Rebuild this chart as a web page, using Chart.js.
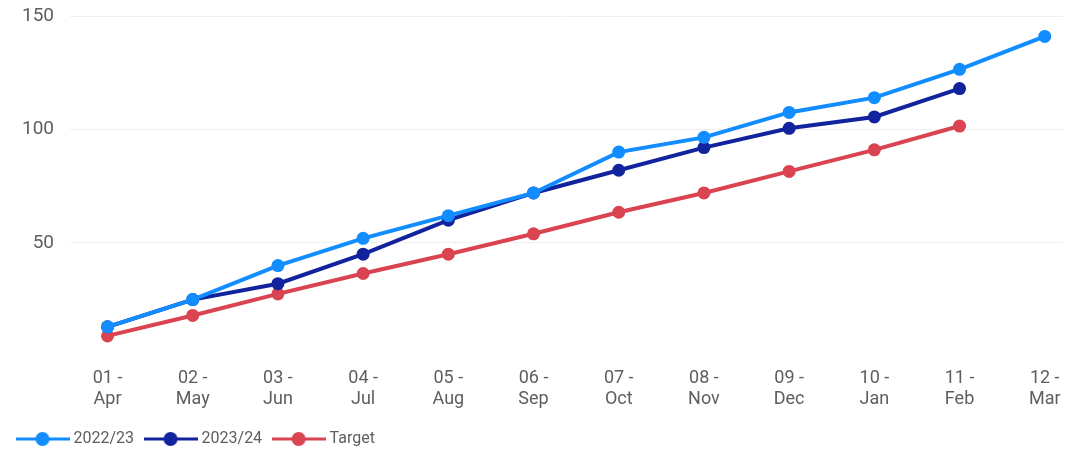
<!DOCTYPE html>
<html>
<head>
<meta charset="utf-8">
<script src="https://cdn.jsdelivr.net/npm/chart.js@4.4.1/dist/chart.umd.min.js"></script>
<style>
  html, body { margin: 0; padding: 0; background: #fff; }
  #wrap { width: 1070px; height: 449px; }
</style>
</head>
<body>
<div id="wrap"><canvas id="chart"></canvas></div>
<script>
// month labels (two lines each)
const months = [
  ["01 -", "Apr"], ["02 -", "May"], ["03 -", "Jun"], ["04 -", "Jul"],
  ["05 -", "Aug"], ["06 -", "Sep"], ["07 -", "Oct"], ["08 -", "Nov"],
  ["09 -", "Dec"], ["10 -", "Jan"], ["11 -", "Feb"], ["12 -", "Mar"]
];
const fy2223 = [13, 25, 40, 52, 62, 72, 90, 96.5, 107.5, 114, 126.5, 141];
const fy2324 = [13, 25, 32, 45, 60, 72, 82, 92, 100.5, 105.5, 118];
const target = [9, 18, 27.5, 36.5, 45, 54, 63.5, 72, 81.5, 91, 101.5];
const yTicks = [50, 100, 150];

const colors = { a: "#118DFF", b: "#12239E", t: "#DA4450" };
const textColor = "#605E5C";

function toPoints(arr) {
  return arr.map((v, i) => ({ x: i, y: v }));
}

// legend marker: short line with a dot in the middle
function legendMarker(color) {
  const c = document.createElement("canvas");
  c.width = 54; c.height = 16;
  const g = c.getContext("2d");
  g.strokeStyle = color;
  g.lineWidth = 3;
  g.beginPath(); g.moveTo(0, 8); g.lineTo(54, 8); g.stroke();
  g.fillStyle = color;
  g.beginPath(); g.arc(27, 8, 7, 0, Math.PI * 2); g.fill();
  return c;
}

function series(label, data, color) {
  return {
    label: label,
    data: toPoints(data),
    borderColor: color,
    backgroundColor: color,
    borderWidth: 4,
    pointRadius: 6.5,
    pointHoverRadius: 6.5,
    pointBorderWidth: 0,
    pointStyle: "circle",
    tension: 0
  };
}

const ctx = document.getElementById("chart").getContext("2d");
const chart = new Chart(ctx, {
  type: "line",
  data: {
    datasets: [
      series("2022/23", fy2223, colors.a),
      series("2023/24", fy2324, colors.b),
      series("Target", target, colors.t)
    ]
  },
  options: {
    responsive: true,
    maintainAspectRatio: false,
    animation: false,
    layout: { padding: { top: 0, right: 0, left: 6, bottom: -8 } },
    plugins: {
      tooltip: { enabled: false },
      legend: {
        position: "bottom",
        align: "start",
        labels: {
          color: textColor,
          font: { family: "Roboto", size: 16 },
          usePointStyle: true,
          pointStyleWidth: 46,
          padding: 13.5,
          generateLabels: function (chart) {
            return chart.data.datasets.map((ds, i) => ({
              text: ds.label,
              fontColor: textColor,
              pointStyle: legendMarker(ds.borderColor),
              datasetIndex: i,
              lineWidth: 0,
              strokeStyle: "rgba(0,0,0,0)",
              fillStyle: "rgba(0,0,0,0)"
            }));
          }
        }
      }
    },
    scales: {
      x: {
        type: "linear",
        min: -0.44,
        max: 11.22,
        grid: { display: false },
        border: { display: false },
        afterFit: function (axis) {
          axis.height += 4;
        },
        ticks: {
          stepSize: 1,
          includeBounds: false,
          autoSkip: false,
          maxRotation: 0,
          color: textColor,
          padding: 3,
          font: { family: "Roboto", size: 18 },
          callback: function (v) {
            return Number.isInteger(v) && months[v] ? months[v] : null;
          }
        }
      },
      y: {
        min: 0,
        max: 150,
        border: { display: false },
        grid: {
          color: ctx => ctx.tick && ctx.tick.value === 0 ? "rgba(0,0,0,0)" : "#F0F0F0",
          lineWidth: 1,
          drawTicks: false
        },
        afterBuildTicks: function (axis) {
          axis.ticks = [0].concat(yTicks).map(v => ({ value: v }));
        },
        afterFit: function (axis) {
          axis.paddingTop = 16;
          axis.paddingBottom = 0;
        },
        ticks: {
          color: textColor,
          padding: 16,
          font: { family: "Roboto", size: 19 },
          callback: v => v === 0 ? "" : v
        }
      }
    }
  }
});
</script>
</body>
</html>
